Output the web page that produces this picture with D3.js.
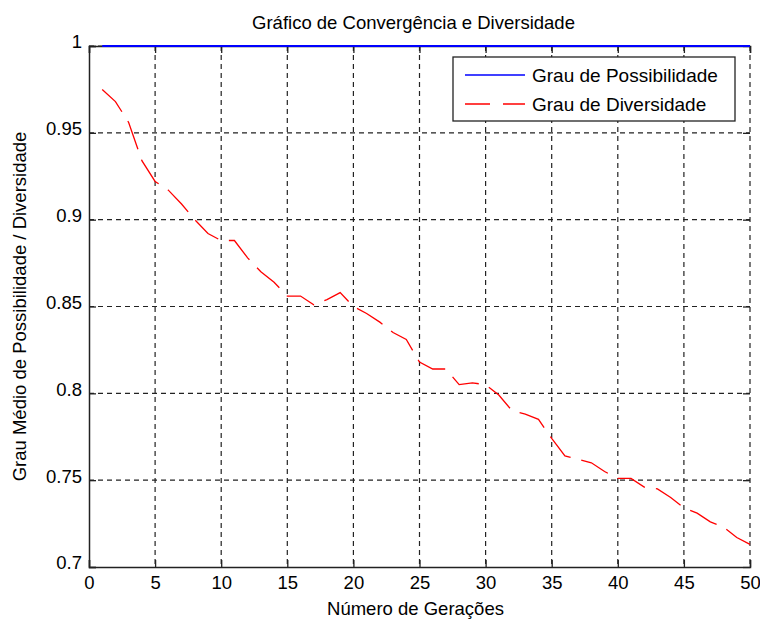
<!DOCTYPE html>
<html>
<head>
<meta charset="utf-8">
<script src="https://cdn.jsdelivr.net/npm/d3@7"></script>
<style>
  body { margin: 0; background: #fff; }
  text { font-family: "Liberation Sans", Arial, sans-serif; fill: #000; }
</style>
</head>
<body>
<div id="chart"></div>
<script>
// data
var geracoes = [1, 2, 3, 4, 5, 6, 7, 8, 9, 10, 11, 12, 13, 14, 15, 16, 17, 18, 19, 20,
  21, 22, 23, 24, 25, 26, 27, 28, 29, 30, 31, 32, 33, 34, 35, 36, 37, 38, 39, 40,
  41, 42, 43, 44, 45, 46, 47, 48, 49, 50];
var possibilidade = [1, 1, 1, 1, 1, 1, 1, 1, 1, 1, 1, 1, 1, 1, 1, 1, 1, 1, 1, 1,
  1, 1, 1, 1, 1, 1, 1, 1, 1, 1, 1, 1, 1, 1, 1, 1, 1, 1, 1, 1,
  1, 1, 1, 1, 1, 1, 1, 1, 1, 1];
var diversidade = [0.975, 0.968, 0.956, 0.934, 0.922, 0.917, 0.909, 0.900, 0.892, 0.888,
  0.888, 0.878, 0.870, 0.864, 0.856, 0.856, 0.851, 0.854, 0.858, 0.850,
  0.846, 0.841, 0.835, 0.831, 0.818, 0.814, 0.814, 0.805, 0.806, 0.805,
  0.799, 0.790, 0.788, 0.785, 0.774, 0.764, 0.762, 0.760, 0.755, 0.751,
  0.751, 0.746, 0.745, 0.740, 0.734, 0.731, 0.726, 0.723, 0.717, 0.713];
var xTicks = [0, 5, 10, 15, 20, 25, 30, 35, 40, 45, 50];
var yTicks = [0.7, 0.75, 0.8, 0.85, 0.9, 0.95, 1];
var yTickLabels = ["0.7", "0.75", "0.8", "0.85", "0.9", "0.95", "1"];
var seriesNames = ["Grau de Possibilidade", "Grau de Diversidade"];

var margin = { top: 46, right: 10, bottom: 53, left: 89 },
  width = 760 - margin.left - margin.right,
  height = 620 - margin.top - margin.bottom;

var svg = d3
  .select("#chart")
  .append("svg")
  .attr("width", 760)
  .attr("height", 620)
  .append("g")
  .attr("transform", "translate(" + margin.left + "," + margin.top + ")");

var x = d3.scaleLinear().domain([0, 50]).range([0, width]);
var y = d3.scaleLinear().domain([0.7, 1]).range([height, 0]);

// grid
svg
  .append("g")
  .selectAll("line")
  .data(xTicks.slice(1))
  .enter()
  .append("line")
  .attr("x1", (d) => x(d))
  .attr("x2", (d) => x(d))
  .attr("y1", 0)
  .attr("y2", height)
  .attr("stroke", "#222")
  .attr("stroke-width", 1.2)
  .attr("stroke-dasharray", "5,4");

svg
  .append("g")
  .selectAll("line")
  .data(yTicks.slice(1))
  .enter()
  .append("line")
  .attr("x1", 0)
  .attr("x2", width)
  .attr("y1", (d) => y(d))
  .attr("y2", (d) => y(d))
  .attr("stroke", "#222")
  .attr("stroke-width", 1.2)
  .attr("stroke-dasharray", "5,4");

// axes, ticks point inward like matlab
var xAxis = svg
  .append("g")
  .attr("transform", "translate(0," + height + ")")
  .call(d3.axisBottom(x).tickValues(xTicks).tickSize(-7).tickPadding(9).tickFormat(d3.format("d")));

var xTop = svg
  .append("g")
  .call(d3.axisTop(x).tickValues(xTicks).tickSize(-7).tickFormat(""));

var yAxis = svg
  .append("g")
  .call(
    d3.axisLeft(y)
      .tickValues(yTicks)
      .tickSize(-7)
      .tickPadding(7)
      .tickFormat((d, i) => yTickLabels[i])
  );

var yRight = svg
  .append("g")
  .attr("transform", "translate(" + width + ",0)")
  .call(d3.axisRight(y).tickValues(yTicks).tickSize(-7).tickFormat(""));

svg.selectAll(".domain").attr("stroke", "#222").attr("stroke-width", 1.5);
svg.selectAll(".tick line").attr("stroke", "#222").attr("stroke-width", 1.3);
yRight.select(".domain").remove();
svg.selectAll(".tick text").style("font-size", "18.5px").style("font-family", "Liberation Sans, Arial, sans-serif").attr("fill", "#000");
yAxis.selectAll(".tick text").attr("dy", "0.1em");

// lines
var line = d3
  .line()
  .x((d) => x(d.g))
  .y((d) => y(d.v));

var posData = geracoes.map((g, i) => ({ g: g, v: possibilidade[i] }));
var divData = geracoes.map((g, i) => ({ g: g, v: diversidade[i] }));

svg
  .append("path")
  .attr("d", line(posData))
  .attr("fill", "none")
  .attr("stroke", "#0000ff")
  .attr("stroke-width", 2);

svg
  .append("path")
  .attr("d", line(divData))
  .attr("fill", "none")
  .attr("stroke", "#ff0000")
  .attr("stroke-width", 1.3)
  .attr("stroke-dasharray", "30,11");

// title and labels
svg
  .append("text")
  .attr("x", width / 2 - 6)
  .attr("y", -17)
  .style("text-anchor", "middle")
  .style("font-size", "18.5px")
  .text("Gráfico de Convergência e Diversidade");

svg
  .append("text")
  .attr("x", width / 2 - 4)
  .attr("y", height + 48)
  .style("text-anchor", "middle")
  .style("font-size", "18.5px")
  .text("Número de Gerações");

svg
  .append("text")
  .attr("transform", "rotate(-90)")
  .attr("x", -height / 2)
  .attr("y", -63)
  .style("text-anchor", "middle")
  .style("font-size", "18.5px")
  .text("Grau Médio de Possibilidade / Diversidade");

// legend
var legend = svg.append("g").attr("transform", "translate(" + (453 - margin.left) + "," + (57 - margin.top) + ")");
legend
  .append("rect")
  .attr("width", 282)
  .attr("height", 64)
  .attr("fill", "#fff")
  .attr("stroke", "#222")
  .attr("stroke-width", 1.3);

var legendColors = ["#0000ff", "#ff0000"];
var legendDash = [null, "25,13"];
legend
  .selectAll("line.key")
  .data(seriesNames)
  .enter()
  .append("line")
  .attr("class", "key")
  .attr("x1", 12)
  .attr("x2", 72)
  .attr("y1", (d, i) => 18 + i * 29)
  .attr("y2", (d, i) => 18 + i * 29)
  .attr("stroke", (d, i) => legendColors[i])
  .attr("stroke-width", 1.5)
  .attr("stroke-dasharray", (d, i) => legendDash[i]);

legend
  .selectAll("text.key")
  .data(seriesNames)
  .enter()
  .append("text")
  .attr("class", "key")
  .attr("x", 79)
  .attr("y", (d, i) => 18 + i * 29)
  .attr("dy", "0.35em")
  .style("font-size", "19px")
  .text((d) => d);
</script>
</body>
</html>
